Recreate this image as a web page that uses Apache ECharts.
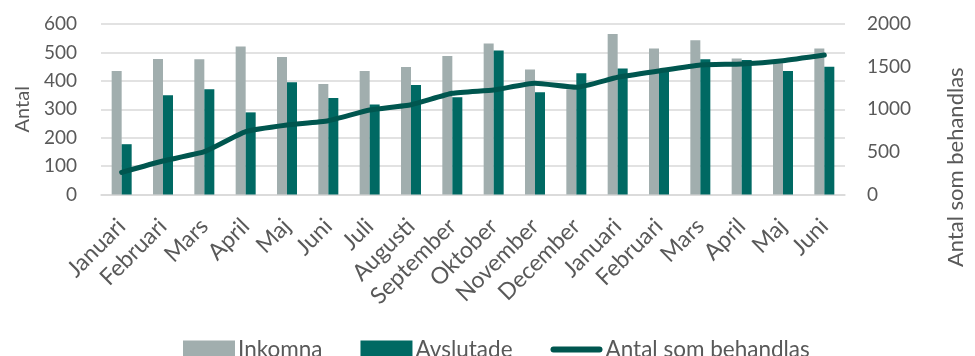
<!DOCTYPE html>
<html>
<head>
<meta charset="utf-8">
<script src="https://cdn.jsdelivr.net/npm/echarts@6/dist/echarts.min.js"></script>
<style>
  html, body { margin: 0; padding: 0; background: #fff; }
  #main { width: 975px; height: 356px; }
</style>
</head>
<body>
<div id="main"></div>
<script>
var months = ['Januari', 'Februari', 'Mars', 'April', 'Maj', 'Juni', 'Juli', 'Augusti',
    'September', 'Oktober', 'November', 'December',
    'Januari', 'Februari', 'Mars', 'April', 'Maj', 'Juni'];
var inkomna = [435, 477, 476, 521, 484, 389, 435, 449, 487, 531, 440, 370, 565, 514, 543, 479, 462, 514];
var avslutade = [177, 349, 370, 289, 395, 340, 317, 385, 342, 507, 360, 427, 443, 435, 476, 473, 435, 450];
var behandlas = [260, 393, 502, 737, 815, 866, 991, 1053, 1187, 1226, 1304, 1257, 1375, 1449, 1519, 1531, 1570, 1636];

var labelColor = '#595959';
var fontName = 'Lato, "Open Sans", sans-serif';
// thick rounded line used as legend icon (bounding box 52 x 18)
var lineIcon = 'path://M0,0 M3,6 L49,6 A3,3 0 0 1 49,12 L3,12 A3,3 0 0 1 3,6 Z M52,18';

var myChart = echarts.init(document.getElementById('main'));

var option = {
    animation: false,
    textStyle: { fontFamily: fontName },
    grid: {
        left: 101,
        right: 103,
        top: 24,
        bottom: 161.5
    },
    legend: {
        left: 183,
        top: 338,
        padding: 0,
        itemWidth: 52,
        itemHeight: 18,
        itemGap: 38,
        textStyle: { fontSize: 22.5, color: labelColor, padding: [0, 0, 8, -2] },
        data: [
            { name: 'Inkomna', icon: 'rect' },
            { name: 'Avslutade', icon: 'rect' },
            { name: 'Antal som behandlas', icon: lineIcon, itemStyle: { color: '#00564F' } }
        ]
    },
    xAxis: {
        type: 'category',
        data: months,
        axisLine: { lineStyle: { color: '#d9d9d9', width: 1.5 } },
        axisTick: { show: false },
        axisLabel: {
            rotate: 45,
            interval: 0,
            fontSize: 23,
            color: labelColor,
            margin: 28
        }
    },
    yAxis: [
        {
            type: 'value',
            min: 0,
            max: 600,
            interval: 100,
            name: 'Antal',
            nameLocation: 'middle',
            nameGap: 58,
            nameRotate: 90,
            nameTextStyle: { fontSize: 20, color: labelColor },
            axisLine: { show: false },
            axisTick: { show: false },
            axisLabel: { fontSize: 19, color: labelColor, margin: 24 },
            splitLine: { lineStyle: { color: '#d9d9d9', width: 1.5 } }
        },
        {
            type: 'value',
            min: 0,
            max: 2000,
            interval: 500,
            name: 'Antal som behandlas',
            nameLocation: 'middle',
            nameGap: 100,
            nameRotate: 90,
            nameTextStyle: { fontSize: 22, color: labelColor, padding: [0, 116, 0, 0] },
            axisLine: { show: false },
            axisTick: { show: false },
            axisLabel: {
                fontSize: 19,
                color: labelColor,
                margin: 22,
                formatter: function (v) { return String(v); }
            },
            splitLine: { show: false }
        }
    ],
    series: [
        {
            name: 'Inkomna',
            type: 'bar',
            data: inkomna,
            barWidth: 10,
            barGap: '0%',
            itemStyle: { color: '#A1AEAE' }
        },
        {
            name: 'Avslutade',
            type: 'bar',
            data: avslutade,
            barWidth: 10,
            itemStyle: { color: '#006963' }
        },
        {
            name: 'Antal som behandlas',
            type: 'line',
            yAxisIndex: 1,
            data: behandlas,
            symbol: 'none',
            smooth: 0.15,
            lineStyle: { color: '#00564F', width: 5, cap: 'round' },
            itemStyle: { color: '#00564F' }
        }
    ]
};

myChart.setOption(option);
</script>
</body>
</html>
